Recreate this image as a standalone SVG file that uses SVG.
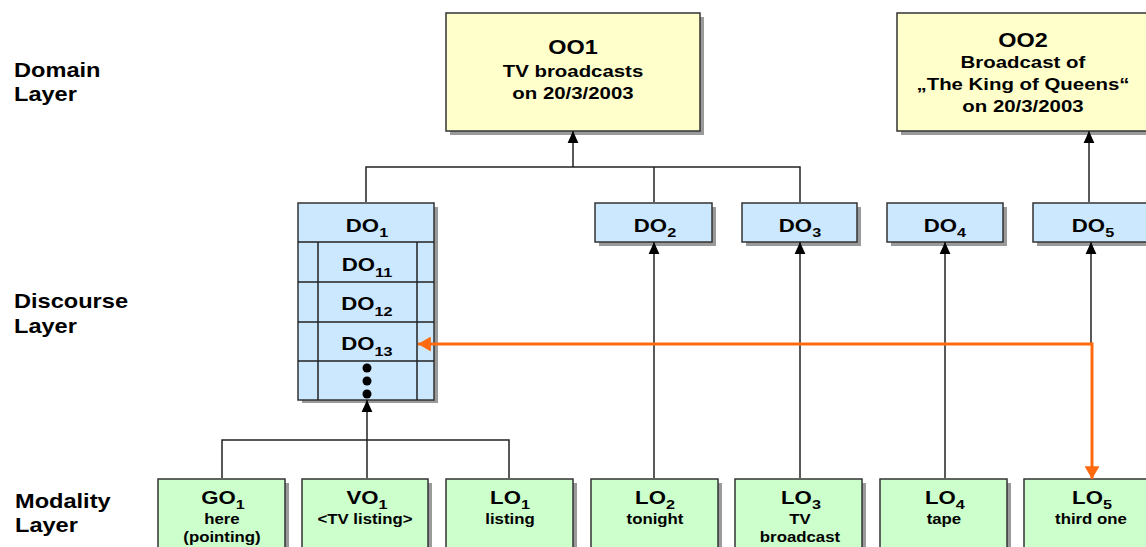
<svg xmlns="http://www.w3.org/2000/svg" width="1146" height="547" viewBox="0 0 1146 547">
<style>
.t{font-family:"Liberation Sans",Arial,sans-serif;font-weight:bold;fill:#000;text-anchor:middle;transform-box:fill-box;transform-origin:center;transform:scaleX(1.2)}
.lbl{font-family:"Liberation Sans",Arial,sans-serif;font-weight:bold;fill:#000;font-size:20px;transform-box:fill-box;transform-origin:left center;transform:scaleX(1.18)}
.big{font-size:19.5px}
.mid{font-size:17px}
.do{font-size:18.5px}
.sm{font-size:14px}
.sub{font-size:13.5px}
.shadow{fill:#9a9a9a}
.yel{fill:#FFFFCC;stroke:#333;stroke-width:1.5}
.blu{fill:#CCE8FF;stroke:#333;stroke-width:1.5}
.grn{fill:#CCFFCC;stroke:#333;stroke-width:1.5}
.ln{fill:none;stroke:#222;stroke-width:1.5}
.arr{fill:none;stroke:#222;stroke-width:1.5;marker-end:url(#ah)}
.org{fill:none;stroke:#FF6A0F;stroke-width:3;marker-end:url(#oh)}
</style>
<defs>
<marker id="ah" markerUnits="userSpaceOnUse" markerWidth="12" markerHeight="12" viewBox="0 0 10 10" refX="10" refY="5" orient="auto">
<path d="M0,0.5 L10,5 L0,9.5 Z" fill="#000"/>
</marker>
<marker id="oh" markerUnits="userSpaceOnUse" markerWidth="14" markerHeight="15" viewBox="0 0 12 14" refX="12" refY="7" orient="auto">
<path d="M0,0 L12,7 L0,14 Z" fill="#FF6A0F"/>
</marker>
</defs>
<rect width="1146" height="547" fill="#fff"/>

<g id="labels">
<text class="lbl" x="14" y="77">Domain</text>
<text class="lbl" x="14" y="101">Layer</text>
<text class="lbl" x="14" y="308">Discourse</text>
<text class="lbl" x="14" y="333">Layer</text>
<text class="lbl" x="15" y="508">Modality</text>
<text class="lbl" x="15" y="532">Layer</text>
</g>

<g id="OO1">
<rect class="shadow" x="450" y="17" width="254" height="118"/>
<rect class="yel" x="446" y="13" width="254" height="118"/>
<text class="t big" x="573" y="54">OO1</text>
<text class="t mid" x="573" y="77">TV broadcasts</text>
<text class="t mid" x="573" y="99">on 20/3/2003</text>
</g>

<g id="OO2">
<rect class="shadow" x="901" y="17" width="254" height="118"/>
<rect class="yel" x="897" y="13" width="254" height="118"/>
<text class="t big" x="1023" y="47">OO2</text>
<text class="t mid" x="1023" y="68">Broadcast of</text>
<text class="t mid" x="1023" y="90">„The King of Queens“</text>
<text class="t mid" x="1023" y="112">on 20/3/2003</text>
</g>

<g id="DO1">
<rect class="shadow" x="302" y="207" width="136" height="196"/>
<rect class="blu" x="298" y="203" width="136" height="197"/>
<path class="ln" d="M298,242 H434 M298,282 H434 M298,322 H434 M298,361 H434 M318,242 V400 M417,242 V400"/>
<text class="t do" x="367" y="232">DO<tspan class="sub" dy="5">1</tspan></text>
<text class="t do" x="367" y="271">DO<tspan class="sub" dy="6">11</tspan></text>
<text class="t do" x="367" y="310">DO<tspan class="sub" dy="6">12</tspan></text>
<text class="t do" x="367" y="350">DO<tspan class="sub" dy="6">13</tspan></text>
<circle cx="367" cy="368" r="4.5" fill="#000"/>
<circle cx="367" cy="381" r="4.5" fill="#000"/>
<circle cx="367" cy="394" r="4.5" fill="#000"/>
</g>

<g id="DO2">
<rect class="shadow" x="599" y="207" width="117" height="39"/>
<rect class="blu" x="595" y="203" width="117" height="39"/>
<text class="t do" x="655" y="232">DO<tspan class="sub" dy="5">2</tspan></text>
</g>
<g id="DO3">
<rect class="shadow" x="746" y="207" width="115" height="39"/>
<rect class="blu" x="742" y="203" width="115" height="39"/>
<text class="t do" x="800" y="232">DO<tspan class="sub" dy="5">3</tspan></text>
</g>
<g id="DO4">
<rect class="shadow" x="891" y="207" width="116" height="39"/>
<rect class="blu" x="887" y="203" width="116" height="39"/>
<text class="t do" x="945" y="232">DO<tspan class="sub" dy="5">4</tspan></text>
</g>
<g id="DO5">
<rect class="shadow" x="1037" y="207" width="116" height="39"/>
<rect class="blu" x="1033" y="203" width="116" height="39"/>
<text class="t do" x="1093" y="232">DO<tspan class="sub" dy="5">5</tspan></text>
</g>

<g id="GO1">
<rect class="shadow" x="162" y="483" width="127" height="80"/>
<rect class="grn" x="158" y="479" width="127" height="80"/>
<text class="t do" x="223" y="504">GO<tspan class="sub" dy="5">1</tspan></text>
<text class="t sm" x="222" y="524">here</text>
<text class="t sm" x="222" y="542">(pointing)</text>
</g>
<g id="VO1">
<rect class="shadow" x="306" y="483" width="126" height="80"/>
<rect class="grn" x="302" y="479" width="126" height="80"/>
<text class="t do" x="367" y="504">VO<tspan class="sub" dy="5">1</tspan></text>
<text class="t sm" x="365" y="524">&lt;TV listing&gt;</text>
</g>
<g id="LO1">
<rect class="shadow" x="450" y="483" width="127" height="80"/>
<rect class="grn" x="446" y="479" width="127" height="80"/>
<text class="t do" x="510" y="504">LO<tspan class="sub" dy="5">1</tspan></text>
<text class="t sm" x="510" y="524">listing</text>
</g>
<g id="LO2">
<rect class="shadow" x="595" y="483" width="127" height="80"/>
<rect class="grn" x="591" y="479" width="127" height="80"/>
<text class="t do" x="655" y="504">LO<tspan class="sub" dy="5">2</tspan></text>
<text class="t sm" x="655" y="524">tonight</text>
</g>
<g id="LO3">
<rect class="shadow" x="739" y="483" width="127" height="80"/>
<rect class="grn" x="735" y="479" width="127" height="80"/>
<text class="t do" x="801" y="504">LO<tspan class="sub" dy="5">3</tspan></text>
<text class="t sm" x="800" y="524">TV</text>
<text class="t sm" x="800" y="542">broadcast</text>
</g>
<g id="LO4">
<rect class="shadow" x="884" y="483" width="127" height="80"/>
<rect class="grn" x="880" y="479" width="127" height="80"/>
<text class="t do" x="945" y="504">LO<tspan class="sub" dy="5">4</tspan></text>
<text class="t sm" x="944" y="524">tape</text>
</g>
<g id="LO5">
<rect class="shadow" x="1028" y="483" width="127" height="80"/>
<rect class="grn" x="1024" y="479" width="127" height="80"/>
<text class="t do" x="1092" y="504">LO<tspan class="sub" dy="5">5</tspan></text>
<text class="t sm" x="1091" y="524">third one</text>
</g>

<g id="connectors">
<path class="ln" d="M366,202 V167 H800 V202"/>
<path class="ln" d="M654,202 V167"/>
<path class="arr" d="M573,167 V131"/>
<path class="arr" d="M1089,202 V131"/>
<path class="ln" d="M222,478 V440 H509 V478"/>
<path class="arr" d="M367,478 V400"/>
<path class="arr" d="M654,478 V242"/>
<path class="arr" d="M800,478 V242"/>
<path class="arr" d="M945,478 V242"/>
<path class="arr" d="M1091,344 V242"/>
<path class="org" d="M1093,344 H418"/>
<path class="org" d="M1092,342.5 V479"/>
</g>
</svg>
